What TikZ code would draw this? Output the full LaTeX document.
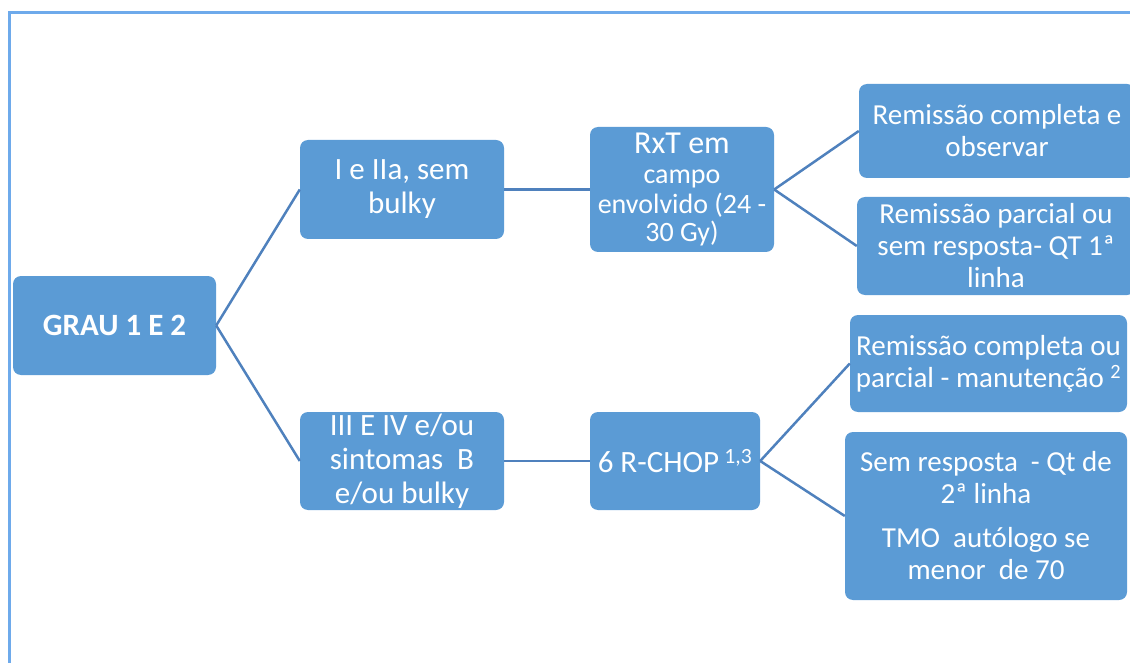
\documentclass[tikz,border=0pt]{standalone}
\usepackage{fontspec}
\setmainfont{Carlito}
\definecolor{boxblue}{RGB}{91,155,213}
\definecolor{linkblue}{RGB}{79,129,189}
\definecolor{frameblue}{RGB}{110,170,235}
\tikzset{
  box/.style={fill=boxblue, rounded corners=8pt, text=white, align=center, inner sep=0pt,
    font=\fontsize{29}{32}\selectfont},
  bigbox/.style={box, font=\fontsize{31}{34}\selectfont},
  link/.style={draw=linkblue, line width=2.5pt},
  frameline/.style={draw=frameblue, line width=3pt}
}
\begin{document}
\begin{tikzpicture}[x=1pt,y=-1pt]
\useasboundingbox (0,0) rectangle (1130,663);
\draw[frameline] (9,690) -- (9,13) -- (1150,13);

\node[bigbox, minimum width=203pt, minimum height=99pt, font=\bfseries\fontsize{31}{34}\selectfont] (grau) at (114.5,325.5) {GRAU 1 E 2};
\node[bigbox, minimum width=204pt, minimum height=99pt] (early) at (402,189.5) {I e IIa, sem\\bulky};
\node[bigbox, minimum width=204pt, minimum height=98pt] (late) at (402,461) {III E IV e/ou\\sintomas \ B\\e/ou bulky};

\node[box, minimum width=184pt, minimum height=125pt] (rxt) at (682,189.5)
  {{\fontsize{32}{34}\selectfont RxT em}\\[-2pt]{\fontsize{28}{28}\selectfont campo}\\[-2pt]{\fontsize{28}{28}\selectfont envolvido (24 -}\\[-4pt]{\fontsize{28}{28}\selectfont 30 Gy)}};
\node[box, minimum width=170pt, minimum height=98pt, font=\fontsize{31}{34}\selectfont] (chop) at (675,461) {6 R-CHOP\,\textsuperscript{1,3}};

\node[box, minimum width=276pt, minimum height=94pt] (rc1) at (997,131) {Remissão completa e\\observar};
\node[box, minimum width=278pt, minimum height=98pt] (rp1) at (996,246) {Remissão parcial ou\\sem resposta- QT 1ª\\linha};
\node[box, minimum width=277pt, minimum height=97pt] (rc2) at (988.5,363.5) {Remissão completa ou\\parcial - manutenção \textsuperscript{2}};
\node[box, minimum width=282pt, minimum height=168pt] (sr2) at (986,516) {Sem resposta \ - Qt de\\2ª linha\\[12pt]TMO \ autólogo se\\menor \ de 70};

\draw[link] (grau.east) -- (early.west);
\draw[link] (grau.east) -- (late.west);
\draw[link] (early.east) -- (rxt.west);
\draw[link] (late.east) -- (chop.west);
\draw[link] (rxt.east) -- (rc1.west);
\draw[link] (rxt.east) -- (rp1.west);
\draw[link] (chop.east) -- (rc2.west);
\draw[link] (chop.east) -- (sr2.west);
\end{tikzpicture}
\end{document}
